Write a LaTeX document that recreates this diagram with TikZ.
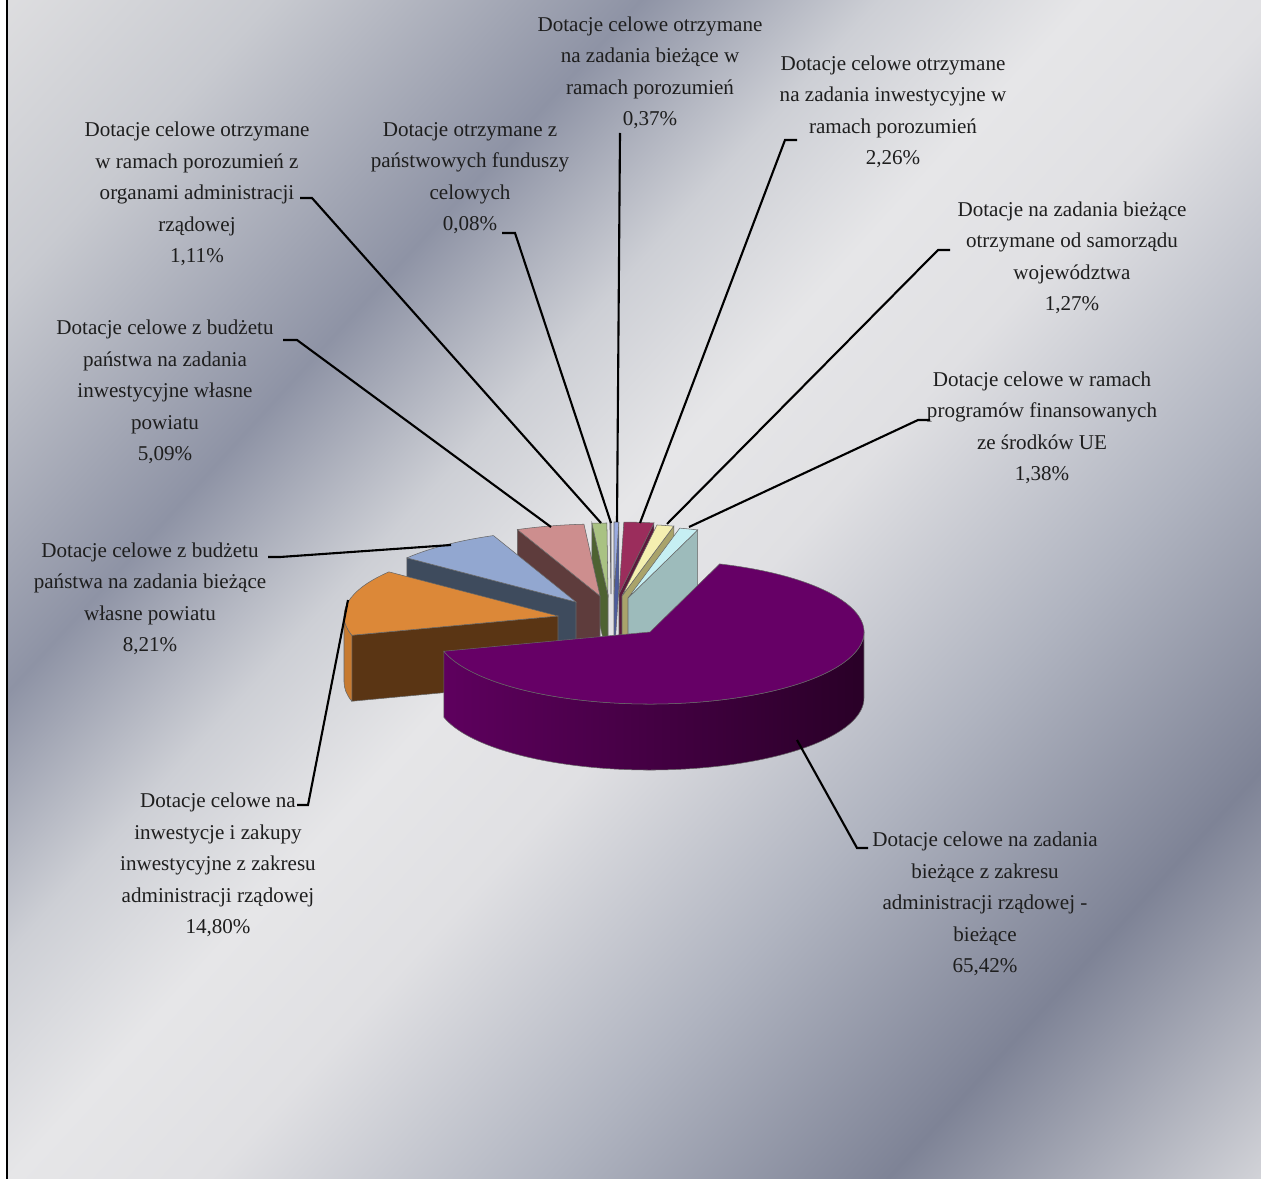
\documentclass[tikz,border=0pt]{standalone}
\usepackage{fontspec}
\setmainfont{Liberation Serif}
\usetikzlibrary{calc}

% background (chrome bands)
\definecolor{bgA}{RGB}{222,222,224}
\definecolor{bgB}{RGB}{200,202,208}
\definecolor{bgC}{RGB}{142,147,165}
\definecolor{bgD}{RGB}{205,207,213}
\definecolor{bgE}{RGB}{230,230,232}
\definecolor{bgF}{RGB}{224,224,227}
\definecolor{bgG}{RGB}{176,180,192}
\definecolor{bgH}{RGB}{126,131,150}
\definecolor{bgI}{RGB}{210,211,216}
\pgfdeclarehorizontalshading{chrome}{100bp}{%
  color(0bp)=(bgA); color(25bp)=(bgA); color(30.8bp)=(bgB); color(38.7bp)=(bgC);
  color(43.8bp)=(bgD); color(48.2bp)=(bgE); color(52.5bp)=(bgF); color(59.7bp)=(bgG);
  color(67bp)=(bgH); color(75bp)=(bgI); color(100bp)=(bgI)}

% slices
\definecolor{labeltext}{RGB}{30,30,30}
\definecolor{purpletop}{RGB}{102,0,102}
\definecolor{purpleleft}{RGB}{94,0,94}
\definecolor{purpleright}{RGB}{41,0,39}
\definecolor{orangetop}{RGB}{220,136,56}
\definecolor{orangestrip}{RGB}{199,122,48}
\definecolor{brownwall}{RGB}{90,53,20}
\definecolor{steeltop}{RGB}{146,167,208}
\definecolor{slatewall}{RGB}{62,75,93}
\definecolor{pinktop}{RGB}{205,142,142}
\definecolor{pinkwall}{RGB}{94,60,60}
\definecolor{greentop}{RGB}{169,194,131}
\definecolor{olivewall}{RGB}{78,98,50}
\definecolor{sliver}{RGB}{90,90,138}
\definecolor{bluetop}{RGB}{154,170,224}
\definecolor{bluewall}{RGB}{77,92,156}
\definecolor{crimsontop}{RGB}{155,45,92}
\definecolor{crimsonwall}{RGB}{92,26,60}
\definecolor{yellowtop}{RGB}{244,239,176}
\definecolor{yellowwall}{RGB}{169,163,107}
\definecolor{cyantop}{RGB}{198,239,243}
\definecolor{tealwall}{RGB}{157,187,187}

\begin{document}
\begin{tikzpicture}[x=0.02cm,y=-0.02cm,
    lbl/.style={align=center,inner sep=0pt,text=labeltext,font=\fontsize{12}{17.9}\selectfont},
    leader/.style={black,line width=1.2pt},
    edge/.style={draw=black!60,line width=0.3pt},
    rad/.style={x radius=214,y radius=72}]
	% page, frame and background
	\useasboundingbox (0,0) rectangle (1261,1179);
	\fill[white] (0,0) rectangle (1261,1179);
	\begin{scope}
		\clip (7,0) rectangle (1261,1179);
		\begin{scope}[transform canvas={cm={0.738,-0.675,-0.675,-0.738,(0cm,0cm)}}]
			\shade[shading=chrome] (0cm,-17.2cm) rectangle (34.54cm,17.6cm);
		\end{scope}
	\end{scope}
	\draw[line width=1.1pt] (7,0) -- (7,1179);

	% 0,37% slice
	\coordinate (bA) at (614,594);
	\path (bA) +(271.3:214 and 72) coordinate (bR);
	\fill[edge,fill=bluewall] (bA) -- (bR) -- ++(0,66) -- ($(bA)+(0,66)$) -- cycle;
	\fill[edge,fill=bluetop] (bA) -- +(270:214 and 72) arc[rad,start angle=270,end angle=271.3] -- cycle;
	% 0,08% slice
	\coordinate (sA) at (611,594);
	\fill[edge,fill=sliver] (sA) -- +(269.7:214 and 72) arc[rad,start angle=269.7,end angle=270] -- cycle;
	% 1,11% slice
	\coordinate (gA) at (608,595);
	\path (gA) +(265.7:214 and 72) coordinate (gL);
	\fill[edge,fill=olivewall] (gA) -- (gL) -- ++(0,66) -- ($(gA)+(0,66)$) -- cycle;
	\fill[edge,fill=greentop] (gL) arc[rad,start angle=265.7,end angle=269.7] -- (gA) -- cycle;
	% 2,26% slice
	\coordinate (cA) at (619,594);
	\path (cA) +(279.4:214 and 72) coordinate (cR);
	\fill[edge,fill=crimsonwall] (cA) -- (cR) -- ++(0,66) -- ($(cA)+(0,66)$) -- cycle;
	\fill[edge,fill=crimsontop] (cA) -- +(271.3:214 and 72) arc[rad,start angle=271.3,end angle=279.4] -- cycle;
	% 1,27% slice
	\coordinate (yA) at (622,596);
	\path (yA) +(284:214 and 72) coordinate (yR);
	\fill[edge,fill=yellowwall] (yA) -- (yR) -- ++(0,66) -- ($(yA)+(0,66)$) -- cycle;
	\fill[edge,fill=yellowtop] (yA) -- +(279.4:214 and 72) arc[rad,start angle=279.4,end angle=284] -- cycle;
	% 1,38% slice
	\coordinate (uA) at (628,598);
	\path (uA) +(289:214 and 72) coordinate (uR);
	\fill[edge,fill=tealwall] (uA) -- (uR) -- ++(0,66) -- ($(uA)+(0,66)$) -- cycle;
	\fill[edge,fill=cyantop] (uA) -- +(284:214 and 72) arc[rad,start angle=284,end angle=289] -- cycle;
	% 5,09% slice
	\coordinate (pA) at (600,596);
	\path (pA) +(247.3:214 and 72) coordinate (pL);
	\fill[edge,fill=pinkwall] (pA) -- (pL) -- ++(0,66) -- ($(pA)+(0,66)$) -- cycle;
	\fill[edge,fill=pinktop] (pL) arc[rad,start angle=247.3,end angle=265.7] -- (pA) -- cycle;
	% 8,21% slice
	\coordinate (kA) at (576,602);
	\path (kA) +(217.8:214 and 72) coordinate (kL);
	\fill[edge,fill=slatewall] (kA) -- (kL) -- ++(0,66) -- ($(kA)+(0,66)$) -- cycle;
	\fill[edge,fill=steeltop] (kL) arc[rad,start angle=217.8,end angle=247.3] -- (kA) -- cycle;
	% 14,80% slice
	\coordinate (oA) at (558,616);
	\path (oA) +(164.5:214 and 72) coordinate (oL);
	\fill[edge,fill=brownwall] (oA) -- (oL) -- ++(0,66) -- ($(oA)+(0,66)$) -- cycle;
	\fill[edge,fill=orangestrip] (oL) arc[rad,start angle=164.5,end angle=180] -- ++(0,66)
		arc[rad,start angle=180,end angle=164.5] -- cycle;
	\fill[edge,fill=orangetop] (oL) arc[rad,start angle=164.5,end angle=217.8] -- (oA) -- cycle;
	% 65,42% slice
	\coordinate (mA) at (650,632);
	\shade[edge,left color=purpleleft,right color=purpleright]
		(mA) ++(0:214 and 72) arc[rad,start angle=0,end angle=164.5] -- ++(0,66)
		arc[rad,start angle=164.5,end angle=0] -- cycle;
	\fill[edge,fill=purpletop] (mA) -- +(-71:214 and 72) arc[rad,start angle=-71,end angle=164.5] -- cycle;

	% labels
	\node[lbl] (l037) at (650,73) {Dotacje celowe otrzymane\\na zadania bieżące w\\ramach porozumień\\0,37\%};
	\node[lbl] (l226) at (893,112) {Dotacje celowe otrzymane\\na zadania inwestycyjne  w\\ramach porozumień\\2,26\%};
	\node[lbl] (l127) at (1072,258) {Dotacje na zadania bieżące\\otrzymane od samorządu\\województwa\\1,27\%};
	\node[lbl] (l138) at (1042,428) {Dotacje celowe w ramach\\programów finansowanych\\ze środków UE\\1,38\%};
	\node[lbl] (l6542) at (985,904) {Dotacje celowe na zadania\\bieżące z zakresu\\administracji rządowej -\\bieżące\\65,42\%};
	\node[lbl] (l1480) at (218,865) {Dotacje celowe na\\inwestycje i zakupy\\inwestycyjne z zakresu\\administracji rządowej\\14,80\%};
	\node[lbl] (l821) at (150,599) {Dotacje celowe z budżetu\\państwa na zadania bieżące\\własne powiatu\\8,21\%};
	\node[lbl] (l509) at (165,392) {Dotacje celowe z budżetu\\państwa na zadania\\inwestycyjne własne\\powiatu\\5,09\%};
	\node[lbl] (l111) at (197,194) {Dotacje celowe otrzymane\\w ramach porozumień z\\organami administracji\\rządowej\\1,11\%};
	\node[lbl] (l008) at (470,178) {Dotacje otrzymane z\\państwowych funduszy\\celowych\\0,08\%};

	% leader lines
	\coordinate (s037) at (620,133);   \coordinate (t037) at (617,522);
	\coordinate (s226) at (797,140);   \coordinate (t226) at (640,523);
	\coordinate (s127) at (950,250);   \coordinate (t127) at (667,524);
	\coordinate (s138) at (930,420);   \coordinate (t138) at (689,527);
	\coordinate (s6542) at (868,848);  \coordinate (t6542) at (797,740);
	\coordinate (s1480) at (297,805);  \coordinate (t1480) at (348,600);
	\coordinate (s821) at (268,557);   \coordinate (t821) at (451,545);
	\coordinate (s509) at (283,340);   \coordinate (t509) at (551,527);
	\coordinate (s111) at (300,198);   \coordinate (t111) at (601,523);
	\coordinate (s008) at (502,233);   \coordinate (t008) at (611,523);
	\draw[leader] (s037) -- (t037);
	\draw[leader] (s226) -- ++(-12,0) -- (t226);
	\draw[leader] (s127) -- ++(-12,0) -- (t127);
	\draw[leader] (s138) -- ++(-12,0) -- (t138);
	\draw[leader] (s6542) -- ++(-11,0) -- (t6542);
	\draw[leader] (s1480) -- ++(11,0) -- (t1480);
	\draw[leader] (s821) -- ++(12,0) -- (t821);
	\draw[leader] (s509) -- ++(14,0) -- (t509);
	\draw[leader] (s111) -- ++(12,0) -- (t111);
	\draw[leader] (s008) -- ++(13,0) -- (t008);
\end{tikzpicture}
\end{document}
